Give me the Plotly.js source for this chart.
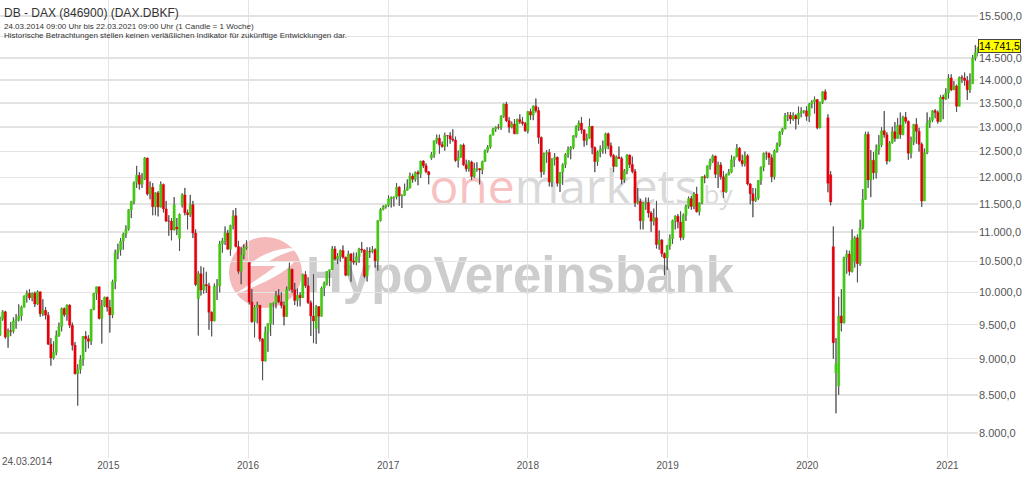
<!DOCTYPE html>
<html><head><meta charset="utf-8">
<script src="https://cdn.plot.ly/plotly-3.0.1.min.js"></script>
<style>html,body{margin:0;padding:0;background:#fff}#chart{width:1024px;height:485px}</style>
</head><body><div id="chart"></div>
<script>
// Weekly candles, first week starting 24.03.2014 (1 Candle = 1 Woche)
const startDate = [2014, 2, 24];

const openP = [
// 2014
9342,9587,9695,9315,9409,9401,9556,9581,9630,9768,9943,9987,9912,9987,9815,10009,9666,9720,9644,9210,
9010,9092,9339,9470,9748,9651,9799,9490,9195,8788,8850,8988,9326,9291,9252,9732,9980,10087,9594,9787,9923,
// 2015
9765,9648,10168,10649,10694,10846,10963,11051,11401,11551,11901,12040,11868,11967,12375,11689,11811,11454,11709,11447,
11865,11414,11197,11196,11040,11090,10890,11480,11670,11347,11308,11490,10985,9900,10298,10038,10123,10104,9688,9554,
10097,10104,10795,10850,10988,10708,11119,11293,10752,10340,10608,10727,
// 2016
10485,9849,9545,9764,9798,9286,8967,9388,9513,9824,9831,9950,9851,9794,9622,10051,10373,10039,9870,9952,
9916,10287,10103,9834,9631,9440,9776,9629,10067,10147,10337,10367,10713,10544,10587,10684,10573,10276,10627,10511,
10490,10580,10711,10696,10259,10668,10665,10700,10513,11203,11404,11449,
// 2017
11481,11599,11629,11630,11814,11651,11666,11757,11804,12027,11963,12095,12064,12313,12225,12109,12370,12438,12717,12770,
12638,12602,12823,12816,12753,12733,12325,12389,12631,12240,12163,12298,12014,12165,12168,12143,12304,12518,12592,12829,
12956,12992,12991,13218,13478,13127,12994,13060,12861,13153,13104,13072,
// 2018
12918,13320,13245,13434,13340,12785,12107,12452,12483,11914,12346,12390,11887,12097,12241,12442,12540,12580,12820,13001,
13078,12938,12724,12767,13011,12580,12306,12496,12541,12561,12860,12616,12424,12210,12394,12364,11960,12124,12431,12247,
12111,11524,11553,11201,11519,11529,11341,11192,11257,10788,10866,10634,10559,
// 2019
10768,10888,11205,11282,11181,10907,11299,11458,11602,11458,11686,11364,11526,12010,11999,12222,12315,12413,12060,12239,
12011,11727,12045,12096,12340,12399,12568,12323,12260,12419,11872,11694,11563,11611,11939,12192,12469,12468,12381,12013,
12512,12634,12895,12961,13229,13242,13164,13236,13166,13283,13319,13337,
// 2020
13219,13483,13526,13577,12982,13514,13745,13190,12050,10750,8800,8620,9633,9525,10565,10626,10336,10500,10904,10465,
11074,11587,12848,11949,12331,12089,12528,12633,12920,12838,12313,12674,12901,12765,13033,12843,13202,13116,12469,12689,
13051,12909,12646,11556,12480,13077,13137,13335,13298,13114,13630,13587,
// 2021
13719,14050,13788,13873,13433,14057,14050,13993,13786,13920,14502,14621
];

const highP = [
// 2014
9620,9720,9710,9440,9540,9610,9660,9810,9790,9950,10030,10050,9995,10010,10030,10010,9890,9770,9690,9300,
9250,9410,9530,9760,9760,9810,9810,9530,9240,8920,9050,9330,9400,9340,9740,9990,10090,10090,9880,9930,9930,
// 2015
9880,10200,10700,10800,10900,10990,11120,11410,11560,11920,12220,12100,12080,12391,12380,11920,11890,11720,11740,11920,
11880,11560,11300,11250,11630,11250,11330,11700,11800,11400,11670,11560,11050,10340,10420,10400,10330,10150,9700,10140,
10210,10850,10900,11100,11040,11130,11390,11430,10850,10740,10790,10860,
// 2016
10485,10050,9800,9850,9800,9300,9470,9520,9830,9840,10020,10050,10000,9850,10090,10480,10380,10150,10060,10000,
10300,10340,10240,9870,10290,9800,9780,10090,10170,10340,10360,10760,10760,10640,10700,10770,10580,10680,10640,10650,
10650,10730,10830,10700,10740,10740,10760,10720,11210,11430,11480,11490,
// 2017
11660,11640,11640,11890,11830,11680,11880,11960,12090,12070,12110,12130,12320,12330,12270,12120,12490,12720,12840,12840,
12700,12880,12830,12890,12951,12800,12520,12640,12660,12340,12330,12320,12280,12290,12170,12320,12540,12630,12840,12980,
13010,13060,13240,13490,13525,13200,13110,13160,13170,13260,13200,13100,
// 2018
13330,13380,13450,13597,13410,12800,12480,12530,12550,12370,12470,12400,12100,12270,12470,12600,12610,12830,13030,13130,
13204,12950,12860,13170,13020,12600,12520,12620,12720,12880,12880,12680,12450,12420,12600,12400,12160,12450,12440,12400,
12160,11800,11600,11540,11620,11620,11370,11420,11560,11030,10880,10650,10780,
// 2019
10960,11220,11300,11320,11370,11330,11490,11640,11650,11720,11820,11530,12020,12050,12230,12360,12440,12420,12300,12290,
12120,12070,12160,12430,12400,12650,12590,12440,12500,12450,11890,11800,11790,11950,12210,12480,12500,12480,12440,12540,
12680,12910,12980,13290,13310,13310,13300,13260,13425,13410,13350,13430,
// 2020
13500,13560,13640,13580,13530,13760,13795,13260,12120,11100,9300,9930,10050,10580,10690,10680,11050,10930,10960,11220,
11780,12900,12900,12530,12490,12640,12830,12990,13330,12890,12710,13000,13100,13180,13300,13230,13310,13130,12800,13060,
13180,12980,12680,12560,13300,13200,13350,13370,13340,13670,13680,13820,
// 2021
14130,14130,13980,13900,14080,14110,14170,14090,14150,14570,14800,14760
];

const lowP = [
// 2014
9330,9560,9290,9160,9330,9370,9440,9550,9560,9760,9840,9880,9860,9770,9800,9620,9630,9580,9200,8903,
8990,9050,9320,9400,9620,9560,9450,9120,8780,8355,8790,8900,9100,9150,9200,9720,9880,9580,9220,9770,9700,
// 2015
9382,9600,10050,10540,10600,10700,10900,11030,11250,11500,11800,11770,11800,11950,11660,11590,11300,11300,11280,11440,
11350,11180,10940,10860,11030,10950,10677,11440,11300,11050,11270,10900,10100,9338,9950,9980,9990,9425,9325,9550,
9880,10000,10650,10780,10700,10600,11050,10740,10300,10130,10540,10700,
// 2016
9810,9530,9310,9520,9250,8699,8960,9100,9330,9500,9750,9830,9750,9490,9620,10030,9990,9800,9780,9780,
9910,10070,9820,9330,9226,9214,9370,9620,9940,10110,10100,10360,10520,10460,10500,10550,10260,10270,10170,10450,
10440,10480,10650,10230,10174,10560,10640,10400,10350,11190,11390,11420,
// 2017
11450,11440,11460,11590,11470,11430,11650,11750,11790,11900,11920,11850,11990,12180,12080,11870,12340,12380,12660,12460,
12580,12520,12600,12660,12700,12300,12190,12380,12220,12110,12110,11950,11990,12110,11868,12060,12300,12480,12560,12830,
12900,12950,12940,13190,13100,12880,12970,12850,12850,13060,13030,12900,
// 2018
12870,13150,13140,13300,12660,12000,12050,12280,11830,11820,12230,11830,11726,11860,12180,12380,12350,12550,12780,12920,
12860,12600,12630,12760,12450,12100,12220,12390,12460,12460,12550,12390,12100,12200,12360,11870,11900,12060,12180,12080,
11450,11500,11050,11050,11400,11260,11010,11120,10720,10700,10580,10279,10360,
// 2019
10700,10800,11050,11070,10860,10870,11200,11420,11400,11410,11350,11300,11500,11890,11980,12150,12280,11990,11800,11960,
11620,11710,12040,12080,12200,12390,12300,12210,12210,11850,11500,11266,11540,11580,11860,12120,12340,12240,11910,11960,
12480,12600,12840,12950,13120,13060,13130,12950,13050,13200,13280,13130,
// 2020
13100,13390,13280,12950,12970,13480,13560,11720,11480,9000,8255,8500,9400,9520,10300,10270,10320,10400,10160,10430,
11050,11580,11800,11630,11960,11980,12440,12590,12780,12250,12300,12660,12700,12760,12760,12830,13070,12340,12370,12630,
12660,12500,11450,11560,12450,12980,13100,13180,13070,13100,13160,13570,
// 2021
13600,13760,13780,13310,13430,13940,13880,13570,13720,13920,14440,14540
];

const closeP = [
// 2014
9587,9695,9315,9409,9401,9556,9581,9630,9768,9943,9987,9912,9987,9815,10009,9666,9720,9644,9210,9010,
9092,9339,9470,9748,9651,9799,9490,9195,8788,8850,8988,9326,9291,9252,9732,9980,10087,9594,9787,9923,9765,
// 2015
9648,10168,10649,10694,10846,10963,11051,11401,11551,11901,12040,11868,11967,12375,11689,11811,11454,11709,11447,11865,
11414,11197,11196,11040,11492,11058,11316,11673,11347,11308,11490,10985,10124,10298,10038,10123,10104,9688,9554,10097,
10104,10795,10850,10988,10708,11119,11293,10752,10340,10608,10727,10743,
// 2016
9849,9545,9764,9798,9286,8967,9388,9513,9824,9831,9950,9851,9794,9622,10051,10373,10039,9870,9952,9916,
10287,10103,9834,9631,9557,9776,9629,10067,10147,10337,10367,10713,10544,10587,10684,10573,10276,10627,10511,10490,
10580,10711,10696,10259,10668,10665,10700,10513,11203,11404,11449,11481,
// 2017
11599,11629,11630,11814,11651,11666,11757,11804,12027,11963,12095,12064,12313,12225,12109,12049,12438,12717,12770,12638,
12602,12823,12816,12753,12733,12325,12389,12631,12240,12163,12298,12014,12165,12168,12143,12304,12518,12592,12829,12956,
12992,12991,13218,13478,13127,12994,13060,12861,13153,13104,13072,12918,
// 2018
13320,13245,13434,13340,12785,12107,12452,12483,11914,12346,12390,11887,12097,12241,12442,12540,12580,12820,13001,13078,
12938,12724,12767,13011,12580,12306,12496,12541,12561,12860,12616,12424,12210,12394,12364,11960,12124,12431,12247,12111,
11524,11553,11201,11519,11529,11341,11192,11257,10788,10866,10634,10559,10768,
// 2019
10888,11205,11282,11181,10907,11299,11458,11602,11458,11686,11364,11526,12010,11999,12222,12315,12413,12060,12239,12011,
11727,12045,12096,12340,12399,12568,12323,12260,12419,11872,11694,11563,11611,11939,12192,12469,12468,12381,12013,12512,
12634,12895,12961,13229,13242,13164,13236,13166,13283,13319,13337,13219,
// 2020
13483,13526,13577,12982,13514,13745,13579,11890,11542,9232,8929,9633,9525,10565,10626,10336,10862,10904,10465,11074,
11587,12848,11949,12331,12089,12528,12633,12920,12838,12313,12674,12901,12765,13033,12843,13202,13116,12469,12689,13051,
12909,12646,11556,12480,13077,13137,13335,13298,13114,13630,13587,13719,
// 2021
14050,13788,13873,13433,14057,14050,13993,13786,13920,14502,14621,14741.5
];

const yTickVals = [8000,8500,9000,9500,10000,10500,11000,11500,12000,12500,13000,13500,14000,14500,15000,15500];
const yTickText = ['8.000,0','8.500,0','9.000,0','9.500,0','10.000,0','10.500,0','11.000,0','11.500,0','12.000,0','12.500,0','13.000,0','13.500,0','14.000,0','14.500,0','','15.500,0'];
const yearTicks = ['2015-01-01','2016-01-01','2017-01-01','2018-01-01','2019-01-01','2020-01-01','2021-01-01'];
const yearLabels = ['2015','2016','2017','2018','2019','2020','2021'];
const firstDateLabel = '24.03.2014';
const lastPriceLabel = '14.741,5';
const titleLines = [
  'DB - DAX (846900) (DAX.DBKF)',
  '24.03.2014 09:00 Uhr bis 22.03.2021 09:00 Uhr (1 Candle = 1 Woche)',
  'Historische Betrachtungen stellen keinen verläßlichen Indikator für zukünftige Entwicklungen dar.'
];

// ---- build ----
const DAY = 86400000;
const t0 = Date.UTC(startDate[0], startDate[1], startDate[2]);
const dates = closeP.map((_, i) => new Date(t0 + i * 7 * DAY).toISOString().slice(0, 10));
const wickLen = highP.map((h, i) => h - lowP[i]);
const bodyHi = openP.map((o, i) => Math.max(o, closeP[i]));
const bodyLo = openP.map((o, i) => Math.min(o, closeP[i]));

const GREEN = '#44c814', RED = '#e4000c', WICK = '#4a4a4a';

const traces = [
  // wicks (bar layer is drawn beneath the candlestick bodies)
  { type: 'bar', x: dates, base: lowP, y: wickLen, width: 0.25 * DAY,
    marker: { color: WICK, line: { color: WICK, width: 0.8 } }, hoverinfo: 'skip' },
  // bodies
  { type: 'candlestick', x: dates, open: openP, high: bodyHi, low: bodyLo, close: closeP,
    increasing: { line: { color: GREEN, width: 0.3 }, fillcolor: GREEN },
    decreasing: { line: { color: RED, width: 0.3 }, fillcolor: RED },
    whiskerwidth: 0, hoverinfo: 'skip' }
];

const PW = 978, PH = 458;
const P = px => px / PW;
const Q = py => 1 - py / PH;

const shapes = [
  { type: 'circle', xref: 'paper', yref: 'paper', x0: P(229), x1: P(302), y0: Q(308), y1: Q(237),
    fillcolor: '#f5b9b9', line: { width: 0 }, layer: 'below' },
  { type: 'path', xref: 'paper', yref: 'paper', layer: 'below', fillcolor: '#ffffff', line: { width: 0 },
    path: `M ${P(300)},${Q(249)} C ${P(285)},${Q(246)} ${P(262)},${Q(252)} ${P(248)},${Q(266)} L ${P(276)},${Q(266)} C ${P(262)},${Q(276)} ${P(245)},${Q(288)} ${P(232)},${Q(296)} C ${P(256)},${Q(286)} ${P(282)},${Q(276)} ${P(294)},${Q(262)} L ${P(268)},${Q(262)} C ${P(278)},${Q(255)} ${P(290)},${Q(251)} ${P(300)},${Q(249)} Z` },
  { type: 'rect', xref: 'paper', yref: 'paper', x0: P(303), x1: P(737), y0: Q(300), y1: Q(240), layer: 'below',
    line: { width: 0 }, fillcolor: 'rgba(0,0,0,0)',
    label: { text: 'HypoVereinsbank', textposition: 'middle center', padding: 0,
      font: { family: 'Liberation Sans, Arial, sans-serif', size: 51, color: '#cdcdcd', weight: 'bold' } } },
  { type: 'rect', xref: 'paper', yref: 'paper', x0: P(425), x1: P(702), y0: Q(212), y1: Q(164), layer: 'below',
    line: { width: 0 }, fillcolor: 'rgba(0,0,0,0)',
    label: { text: 'one<span style="fill:#d9d9d9">markets</span>', textposition: 'middle center', padding: 0,
      font: { family: 'Open Sans, sans-serif', size: 48, color: '#f7c1c1' } } },
  { type: 'rect', xref: 'paper', yref: 'paper', x0: P(700), x1: P(736), y0: Q(212), y1: Q(180), layer: 'below',
    line: { width: 0 }, fillcolor: 'rgba(0,0,0,0)',
    label: { text: 'by', textposition: 'middle center', padding: 0,
      font: { family: 'Open Sans, sans-serif', size: 26, color: '#dadada' } } }
];

const annotations = [
  { xref: 'paper', yref: 'paper', x: 0.002, y: Q(13), xanchor: 'left', yanchor: 'middle', showarrow: false,
    text: titleLines[0], font: { family: 'Liberation Sans, Arial, sans-serif', size: 12, color: '#333' } },
  { xref: 'paper', yref: 'paper', x: 0.002, y: Q(26), xanchor: 'left', yanchor: 'middle', showarrow: false,
    text: titleLines[1], font: { family: 'Liberation Sans, Arial, sans-serif', size: 8, color: '#333' } },
  { xref: 'paper', yref: 'paper', x: 0.002, y: Q(35.5), xanchor: 'left', yanchor: 'middle', showarrow: false,
    text: titleLines[2], font: { family: 'Liberation Sans, Arial, sans-serif', size: 8, color: '#333' } },
  { xref: 'paper', yref: 'paper', x: 0, y: Q(461), xanchor: 'left', yanchor: 'middle', showarrow: false,
    text: firstDateLabel, font: { family: 'Liberation Sans, Arial, sans-serif', size: 10, color: '#555' } },
  { xref: 'paper', yref: 'y', x: 1, y: Math.log10(closeP[closeP.length - 1]), xanchor: 'left', yanchor: 'middle',
    yshift: 1.5, showarrow: false, text: lastPriceLabel, bgcolor: '#ffff00', bordercolor: '#444', borderwidth: 1, borderpad: 0,
    font: { family: 'Liberation Sans, Arial, sans-serif', size: 10.5, color: '#000' } }
];

const layout = {
  width: 1024, height: 485,
  margin: { l: 0, r: 1024 - PW, t: 0, b: 485 - PH, pad: 0 },
  paper_bgcolor: '#ffffff', plot_bgcolor: 'rgba(0,0,0,0)',
  showlegend: false, boxgap: 0.1, boxgroupgap: 0, barmode: 'overlay', dragmode: false,
  xaxis: { type: 'date', range: [dates[0], dates[dates.length - 1]], rangeslider: { visible: false },
    tickvals: yearTicks, ticktext: yearLabels, showgrid: true, gridcolor: '#e3e3e3', gridwidth: 1,
    zeroline: false, showline: false, ticks: '', fixedrange: true,
    tickfont: { family: 'Liberation Sans, Arial, sans-serif', size: 10, color: '#555' } },
  yaxis: { type: 'log', side: 'right', range: [Math.log10(7689), Math.log10(15898)],
    tickvals: yTickVals, ticktext: yTickText, showgrid: true, gridcolor: '#e3e3e3', gridwidth: 1.5,
    zeroline: false, showline: false, ticks: '', fixedrange: true,
    tickfont: { family: 'Liberation Sans, Arial, sans-serif', size: 11, color: '#555' } },
  shapes: shapes, annotations: annotations
};

Plotly.newPlot('chart', traces, layout, { displayModeBar: false, staticPlot: true });
</script>
</body></html>
